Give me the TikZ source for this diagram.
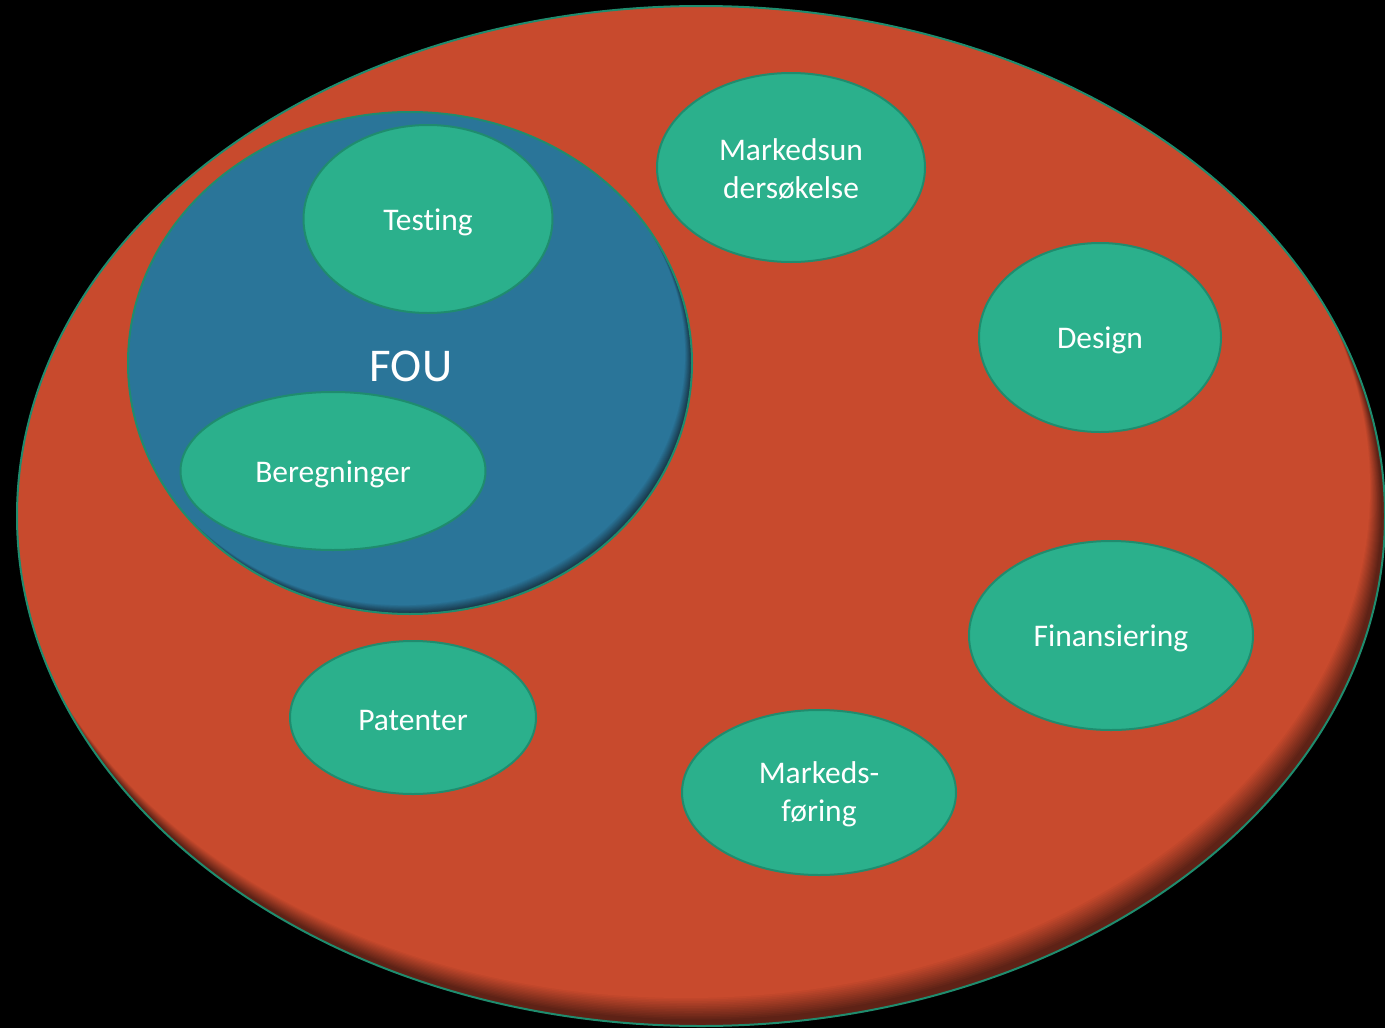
\documentclass[tikz,border=0pt]{standalone}
\usepackage{fontspec}
\setmainfont{Carlito}[Ligatures=NoCommon]
\usetikzlibrary{shapes.geometric}
\definecolor{redf}{HTML}{C84A2D}
\definecolor{redsh}{HTML}{5E2216}
\definecolor{bluef}{HTML}{2A7599}
\definecolor{bluesh}{HTML}{1A3C4F}
\definecolor{greenf}{HTML}{2BB08C}
\definecolor{greenl}{HTML}{1F8C6E}
\begin{document}
\begin{tikzpicture}[x=1pt,y=-1pt,
  item/.style={ellipse, fill=greenf, draw=greenl, line width=2pt, inner sep=0pt},
  lbl/.style={text=white, align=center, inner sep=0pt, font=\fontsize{31.5}{38}\selectfont},
  outl/.style={draw=greenl, line width=2pt}]
\useasboundingbox (0,0) rectangle (1385,1028);
\fill[black] (0,0) rectangle (1385,1028);
% big red ellipse with inner shadow
\begin{scope}
  \clip (701,516) ellipse [x radius=684, y radius=510];
  \fill[redsh] (701,516) ellipse [x radius=684, y radius=510];
  \foreach \i in {0,...,14} {
    \pgfmathsetmacro\p{\i*100/14}
    \fill[redf!\p!redsh] ({701-3-12*\i/14},{516-5-23*\i/14}) ellipse [x radius=684, y radius=510];
  }
\end{scope}
\node[ellipse, outl, minimum width=1368pt, minimum height=1020pt, inner sep=0pt] (world) at (701,516) {};
% FOU circle with inner shadow
\begin{scope}
  \clip (410,363) ellipse [x radius=282, y radius=251];
  \fill[bluesh] (410,363) ellipse [x radius=282, y radius=251];
  \foreach \i in {0,...,10} {
    \pgfmathsetmacro\p{\i*10}
    \fill[bluef!\p!bluesh] ({410-1-6*\i/10},{363-1-8*\i/10}) ellipse [x radius=282, y radius=251];
  }
\end{scope}
\node[ellipse, outl, minimum width=564pt, minimum height=502pt, inner sep=0pt] (fou) at (410,363) {};
\node[text=white, inner sep=0pt, font=\fontsize{47}{56}\selectfont] (foulabel) at ([xshift=1pt,yshift=-3pt]fou.center) {FOU};
% items
\node[item, minimum width=249pt, minimum height=188pt] (testing) at (428,219) {};
\node[lbl] (testingt) at ([yshift=-3pt]testing.center) {Testing};
\node[item, minimum width=305pt, minimum height=158pt] (bereg) at (333,471) {};
\node[lbl] (beregt) at ([yshift=-3pt]bereg.center) {Beregninger};
\node[item, minimum width=268pt, minimum height=189pt] (markund) at (791,167.5) {};
\node[lbl] (markundt) at ([yshift=-2pt]markund.center) {Markedsun\\dersøkelse};
\node[item, minimum width=242pt, minimum height=189pt] (design) at (1100,337.5) {};
\node[lbl] (designt) at ([yshift=-3pt]design.center) {Design};
\node[item, minimum width=284pt, minimum height=189pt] (finans) at (1111,635.5) {};
\node[lbl] (finanst) at ([yshift=-3pt]finans.center) {Finansiering};
\node[item, minimum width=246pt, minimum height=153pt] (patenter) at (413,717.5) {};
\node[lbl] (patentert) at ([yshift=-3pt]patenter.center) {Patenter};
\node[item, minimum width=274pt, minimum height=165pt] (markf) at (819,792.5) {};
\node[lbl] (markft) at ([yshift=-2pt]markf.center) {Markeds-\\føring};
\end{tikzpicture}
\end{document}
